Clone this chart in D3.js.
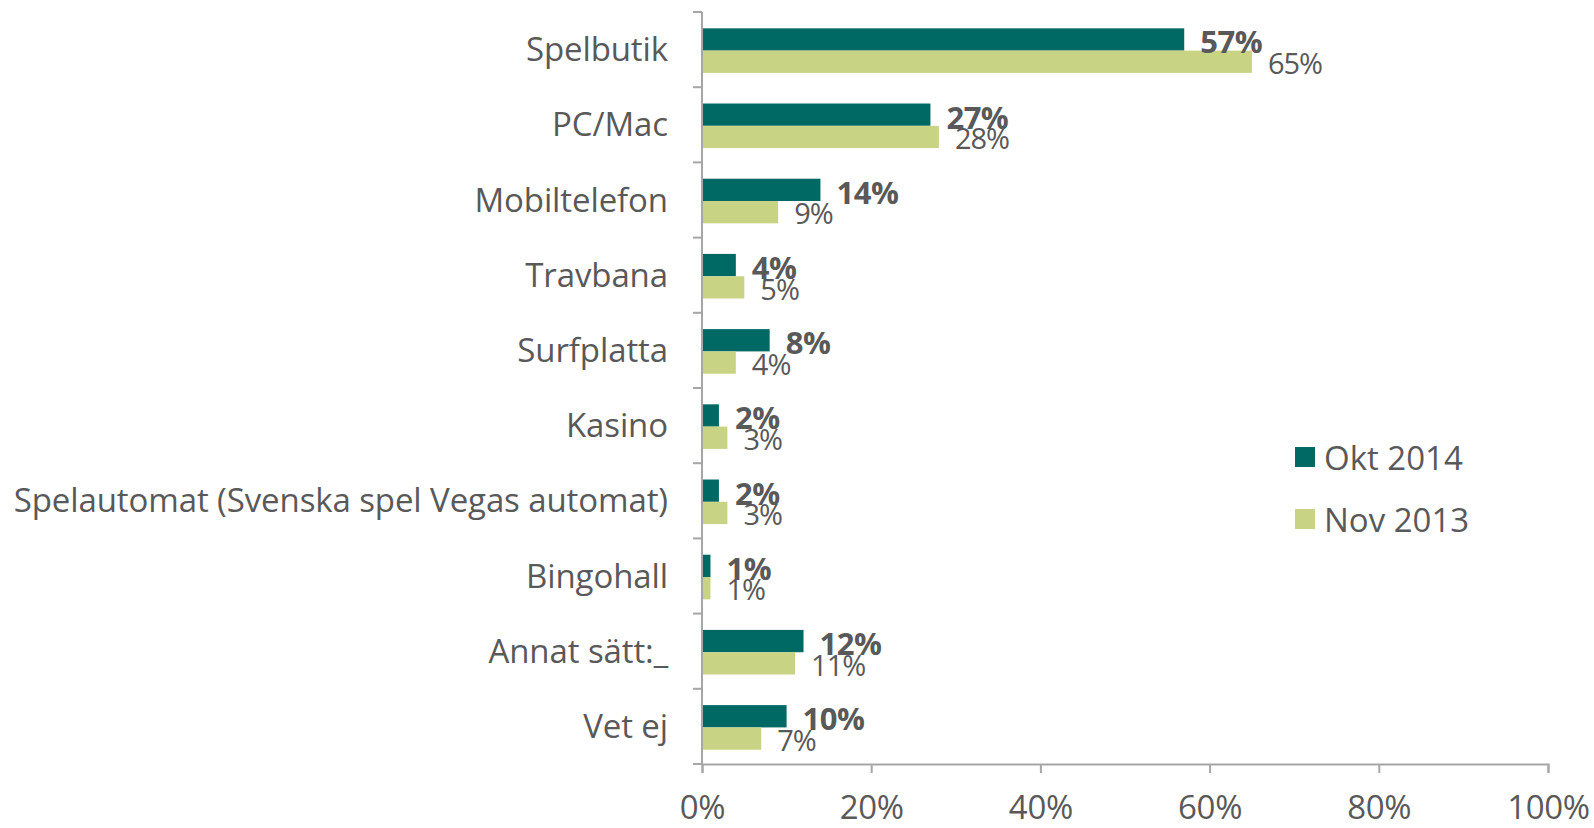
<!DOCTYPE html>
<html>
<head>
<meta charset="utf-8">
<script src="https://cdn.jsdelivr.net/npm/d3@7"></script>
<style>
  html, body { margin: 0; padding: 0; background: #fff; }
  svg { display: block; font-family: "Open Sans", Lato, sans-serif; }
</style>
</head>
<body>
<div id="chart"></div>
<script>
// Kanaler för spel: Okt 2014 vs Nov 2013
var categories = ['Spelbutik', 'PC/Mac', 'Mobiltelefon', 'Travbana', 'Surfplatta', 'Kasino',
    'Spelautomat (Svenska spel Vegas automat)', 'Bingohall', 'Annat sätt:_', 'Vet ej'];
var seriesNames = ['Okt 2014', 'Nov 2013'];
var okt2014 = [57, 27, 14, 4, 8, 2, 2, 1, 12, 10];
var nov2013 = [65, 28, 9, 5, 4, 3, 3, 1, 11, 7];
var xTicks = [0, 20, 40, 60, 80, 100];

var COLORS = { 'Okt 2014': '#006964', 'Nov 2013': '#c9d384' };
var TEXT = '#595959';
var AXIS = '#a6a6a6';

var width = 1594, height = 828;
var margin = { top: 12, right: 46, bottom: 64, left: 702 };

var rows = categories.map(function(c, i) {
    return { cat: c, values: [
        { key: seriesNames[0], v: okt2014[i] },
        { key: seriesNames[1], v: nov2013[i] }
    ] };
});

var svg = d3.select('#chart').append('svg')
    .attr('width', width)
    .attr('height', height);

var x = d3.scaleLinear().domain([0, 100]).range([margin.left, width - margin.right]);
var y = d3.scaleBand().domain(categories).range([margin.top, height - margin.bottom]).padding(0);
var bw = y.bandwidth();
var sub = d3.scaleBand().domain(seriesNames).range([bw * 0.217, bw * 0.81]).padding(0);

// bars
var groups = svg.append('g').selectAll('g')
    .data(rows)
    .join('g')
    .attr('transform', function(d) { return 'translate(0,' + y(d.cat) + ')'; });

groups.selectAll('rect')
    .data(function(d) { return d.values; })
    .join('rect')
    .attr('x', x(0))
    .attr('y', function(d) { return sub(d.key); })
    .attr('width', function(d) { return x(d.v) - x(0); })
    .attr('height', sub.bandwidth())
    .attr('fill', function(d) { return COLORS[d.key]; });

// data labels (bold for Okt 2014)
groups.selectAll('text')
    .data(function(d) { return d.values; })
    .join('text')
    .attr('x', function(d) { return x(d.v) + 16; })
    .attr('y', function(d, i) { return sub(d.key) + sub.bandwidth() / 2 + (i === 0 ? 3 : 2); })
    .attr('dy', '0.35em')
    .attr('fill', TEXT)
    .style('font-size', function(d, i) { return i === 0 ? '31px' : '29px'; })
    .style('font-weight', function(d, i) { return i === 0 ? 'bold' : 'normal'; })
    .style('letter-spacing', function(d, i) { return i === 0 ? '-0.5px' : '-1px'; })
    .text(function(d) { return d.v + '%'; });

// y axis
var yAxis = svg.append('g')
    .attr('transform', 'translate(' + x(0) + ',0)');
yAxis.append('line')
    .attr('x1', 0).attr('x2', 0)
    .attr('y1', margin.top).attr('y2', height - margin.bottom)
    .attr('stroke', AXIS).attr('stroke-width', 2);
yAxis.selectAll('line.tick')
    .data(categories.concat(['__end']))
    .join('line')
    .attr('class', 'tick')
    .attr('x1', -9).attr('x2', 0)
    .attr('y1', function(d) { return d === '__end' ? height - margin.bottom : y(d); })
    .attr('y2', function(d) { return d === '__end' ? height - margin.bottom : y(d); })
    .attr('stroke', AXIS).attr('stroke-width', 2);
yAxis.selectAll('text')
    .data(categories)
    .join('text')
    .attr('x', -34)
    .attr('y', function(d) { return y(d) + bw / 2; })
    .attr('dy', '0.35em')
    .attr('text-anchor', 'end')
    .attr('fill', TEXT)
    .style('font-size', '33px')
    .style('letter-spacing', '-0.1px')
    .text(function(d) { return d; });

// x axis
var xAxis = svg.append('g')
    .attr('transform', 'translate(0,' + (height - margin.bottom) + ')')
    .call(d3.axisBottom(x).tickValues(xTicks).tickSize(9).tickPadding(23)
        .tickFormat(function(d) { return d + '%'; }));
xAxis.select('.domain').attr('stroke', AXIS).attr('stroke-width', 2);
xAxis.selectAll('.tick line').attr('stroke', AXIS).attr('stroke-width', 2);
xAxis.selectAll('.tick text')
    .attr('fill', TEXT)
    .style('font-size', '33px')
    .style('letter-spacing', '-0.3px')
    .style('font-family', '"Open Sans", Lato, sans-serif');

// legend
var legend = svg.append('g').attr('transform', 'translate(1295,447)');
var li = legend.selectAll('g')
    .data(seriesNames)
    .join('g')
    .attr('transform', function(d, i) { return 'translate(0,' + (i * 62) + ')'; });
li.append('rect')
    .attr('width', 20).attr('height', 20)
    .attr('fill', function(d) { return COLORS[d]; });
li.append('text')
    .attr('x', 29).attr('y', 11)
    .attr('dy', '0.35em')
    .attr('fill', TEXT)
    .style('font-size', '33px')
    .text(function(d) { return d; });
</script>
</body>
</html>
